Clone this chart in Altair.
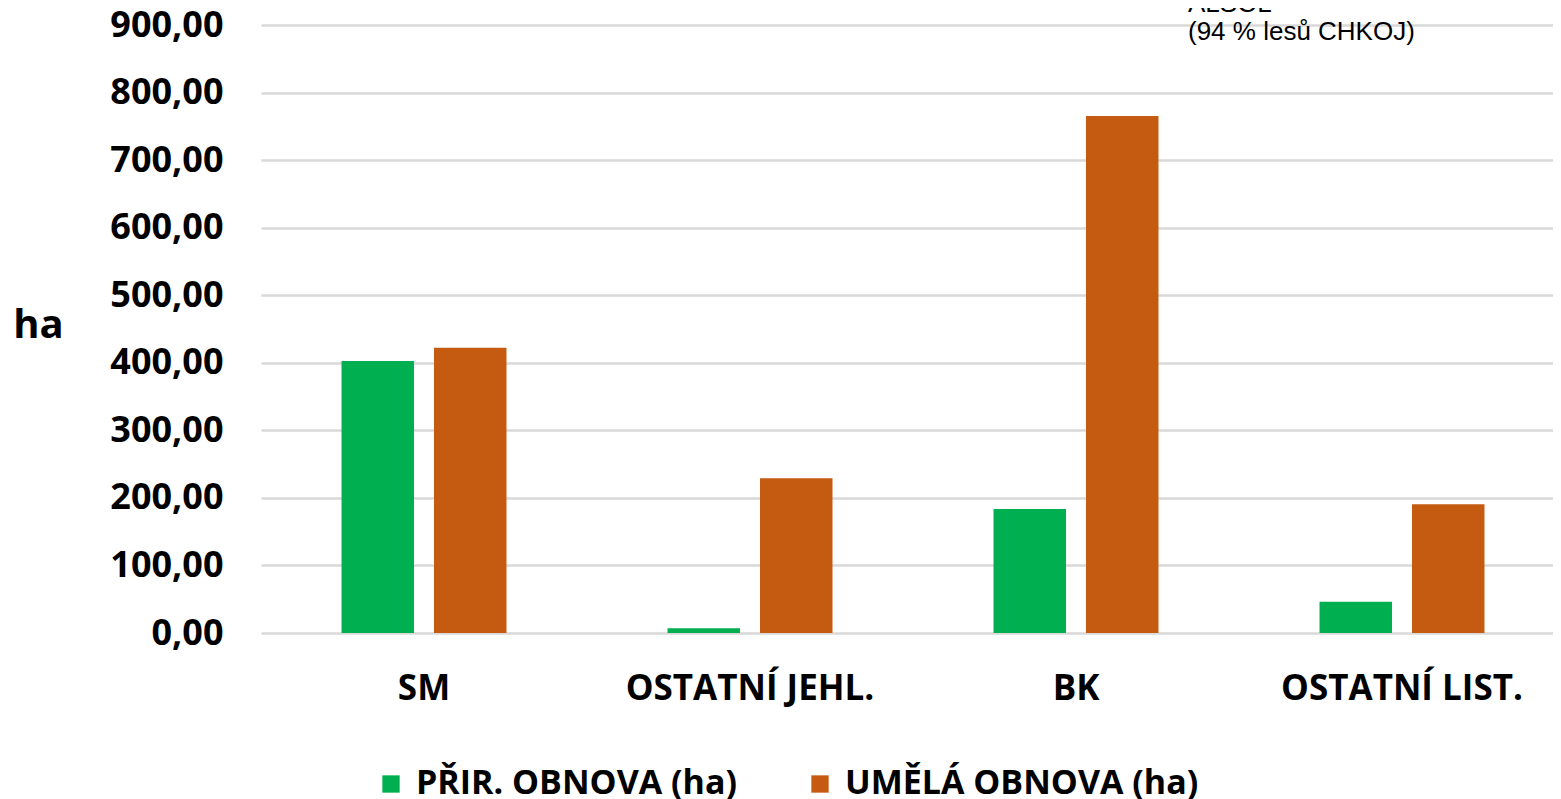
import altair as alt
import pandas as pd

categories = ["SM", "OSTATNÍ JEHL.", "BK", "OSTATNÍ LIST."]
series_names = ["PŘIR. OBNOVA (ha)", "UMĚLÁ OBNOVA (ha)"]
prir_values = [402.5, 7.0, 183.5, 46.3]
umela_values = [422.3, 229.0, 765.3, 190.5]
y_ticks = [0, 100, 200, 300, 400, 500, 600, 700, 800, 900]
series_colors = ["#00B050", "#C55A11"]
title_lines = ["ALSOL", "(94 % lesů CHKOJ)"]

rows = []
for cat, p, u in zip(categories, prir_values, umela_values):
    rows.append({"cat": cat, "series": series_names[0], "value": p})
    rows.append({"cat": cat, "series": series_names[1], "value": u})
df = pd.DataFrame(rows)

chart = alt.Chart(df).mark_bar().encode(
    x=alt.X(
        "cat:N",
        sort=categories,
        scale=alt.Scale(paddingInner=0.494, paddingOuter=0.247, range=[0, 1304]),
        axis=alt.Axis(
            title=None, labelAngle=0, labelFont="Open Sans", labelFontWeight="bold",
            labelFontSize=35, labelColor="#000000", labelPadding=38, ticks=False,
            tickSize=0, domain=False, grid=False, labelBaseline="top",
            labelLimit=1000,
        ),
    ),
    xOffset=alt.XOffset(
        "series:N", sort=series_names,
        scale=alt.Scale(paddingInner=0.216, paddingOuter=0),
    ),
    y=alt.Y(
        "value:Q",
        scale=alt.Scale(domain=[0, 900], nice=False),
        axis=alt.Axis(
            values=y_ticks,
            labelExpr="replace(format(datum.value, '.2f'), '.', ',')",
            labelFont="Open Sans", labelFontWeight="bold", labelFontSize=36,
            labelColor="#000000", labelPadding=38, ticks=False, tickSize=0,
            domain=False, grid=True, gridColor="#d9d9d9", gridWidth=2.5,
            title="ha", titleAngle=0, titleFont="Open Sans", titleFontWeight="bold",
            titleFontSize=40, titleColor="#000000", titleAlign="center",
            titleBaseline="middle", titleX=-223, titleY=300,
        ),
    ),
    color=alt.Color(
        "series:N",
        sort=series_names,
        scale=alt.Scale(domain=series_names, range=series_colors),
        legend=alt.Legend(
            title=None, orient="none", legendX=113, legendY=742, padding=0,
            direction="horizontal", symbolType="square", symbolSize=300,
            symbolStrokeWidth=0, labelFont="Open Sans", labelFontWeight="bold",
            labelFontSize=34, labelColor="#000000", labelOffset=8,
            columnPadding=66, labelLimit=600,
        ),
    ),
).properties(
    width=1292,
    height=608,
    title=alt.Title(
        text=title_lines, font="Liberation Sans", fontSize=26, fontWeight="normal",
        color="#000000", anchor="start", frame="group", dx=927, dy=59,
        lineHeight=28, offset=0, baseline="alphabetic",
    ),
    autosize=alt.AutoSizeParams(type="none"),
    padding={"left": 253, "top": 17, "right": 0, "bottom": 166},
).configure_view(stroke=None)

chart.save("out.html", embed_options={"renderer": "svg", "actions": False})
